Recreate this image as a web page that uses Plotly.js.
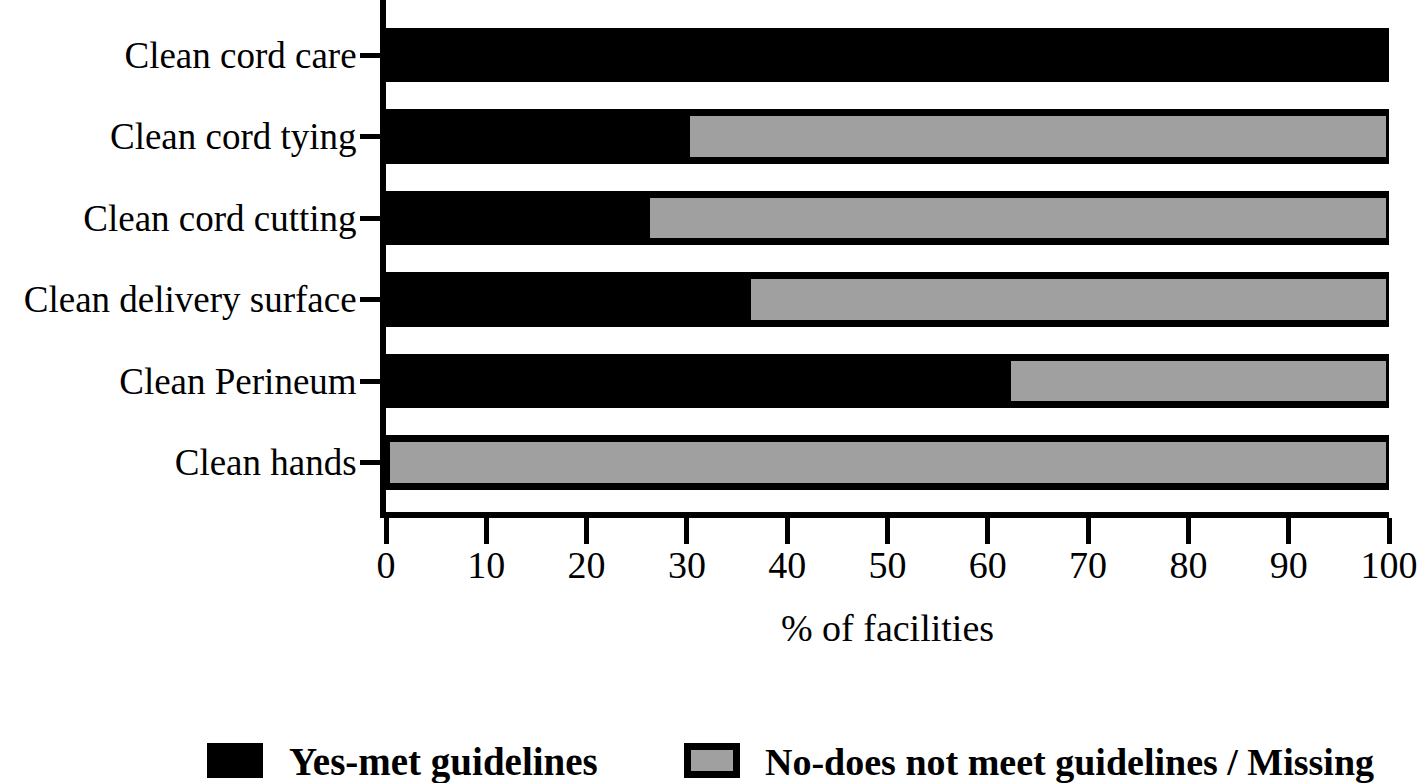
<!DOCTYPE html>
<html>
<head>
<meta charset="utf-8">
<script src="https://cdn.plot.ly/plotly-3.0.1.min.js"></script>
<style>html,body{margin:0;padding:0;background:#fff;}#chart{width:1418px;height:783px;}</style>
</head>
<body>
<div id="chart"></div>
<script>
const categories = ["Clean cord care", "Clean cord tying", "Clean cord cutting", "Clean delivery surface", "Clean Perineum", "Clean hands"];
const yesMet = [100, 30, 26, 36, 62, 0];
const noMissing = [0, 70, 74, 64, 38, 100];
const seriesNames = ["Yes-met guidelines", "No-does not meet guidelines / Missing"];
const xTicks = [0, 10, 20, 30, 40, 50, 60, 70, 80, 90, 100];

const BLACK = "#000000";
const GRAY = "#a0a0a0";
const FONT = "Liberation Serif, Times New Roman, serif";

const traces = [
  {type: "bar", orientation: "h", name: seriesNames[0], y: categories, x: yesMet,
   width: 0.58, marker: {color: BLACK, line: {color: BLACK, width: 7}}, showlegend: false},
  {type: "bar", orientation: "h", name: seriesNames[1], y: categories, x: noMissing,
   width: 0.58, marker: {color: GRAY, line: {color: BLACK, width: 7}}, showlegend: false}
];

const L = 386, R = 1389, B = 512;
function px(x) { return (x - L) / (R - L); }
function py(y) { return (B - y) / B; }

const layout = {
  width: 1418, height: 783,
  margin: {l: L, r: 1418 - R, t: 0, b: 783 - B},
  paper_bgcolor: "#fff", plot_bgcolor: "#fff",
  barmode: "stack",
  font: {family: FONT, color: "#000"},
  xaxis: {
    range: [0, 100], tickvals: xTicks, ticktext: xTicks.map(String),
    showgrid: false, zeroline: false, showline: true, linecolor: BLACK, linewidth: 6,
    ticks: "outside", ticklen: 26, tickwidth: 5, tickcolor: BLACK,
    ticklabelstandoff: -12,
    tickfont: {family: FONT, size: 38, color: "#000"},
    title: {text: "% of facilities", font: {family: FONT, size: 38, color: "#000"}, standoff: 32},
    fixedrange: true
  },
  yaxis: {
    range: [5.607, -0.675], autorange: false,
    showgrid: false, zeroline: false, showline: true, linecolor: BLACK, linewidth: 6,
    ticks: "outside", ticklen: 20, tickwidth: 5, tickcolor: BLACK,
    ticklabelstandoff: -4,
    tickfont: {family: FONT, size: 37, color: "#000"},
    fixedrange: true
  },
  shapes: [
    {type: "rect", xref: "paper", yref: "paper", x0: px(207), x1: px(263), y0: py(778), y1: py(743),
     fillcolor: BLACK, line: {width: 0}},
    {type: "rect", xref: "paper", yref: "paper", x0: px(687.5), x1: px(736.5), y0: py(774.5), y1: py(746.5),
     fillcolor: GRAY, line: {color: BLACK, width: 7}}
  ],
  annotations: [
    {xref: "paper", yref: "paper", x: px(287), y: py(762), xanchor: "left", yanchor: "middle",
     text: "<b>" + seriesNames[0] + "</b>", showarrow: false, font: {family: FONT, size: 39, color: "#000"}},
    {xref: "paper", yref: "paper", x: px(763), y: py(762), xanchor: "left", yanchor: "middle",
     text: "<b>" + seriesNames[1] + "</b>", showarrow: false, font: {family: FONT, size: 38, color: "#000"}}
  ]
};

Plotly.newPlot("chart", traces, layout, {displayModeBar: false, staticPlot: true});
</script>
</body>
</html>
